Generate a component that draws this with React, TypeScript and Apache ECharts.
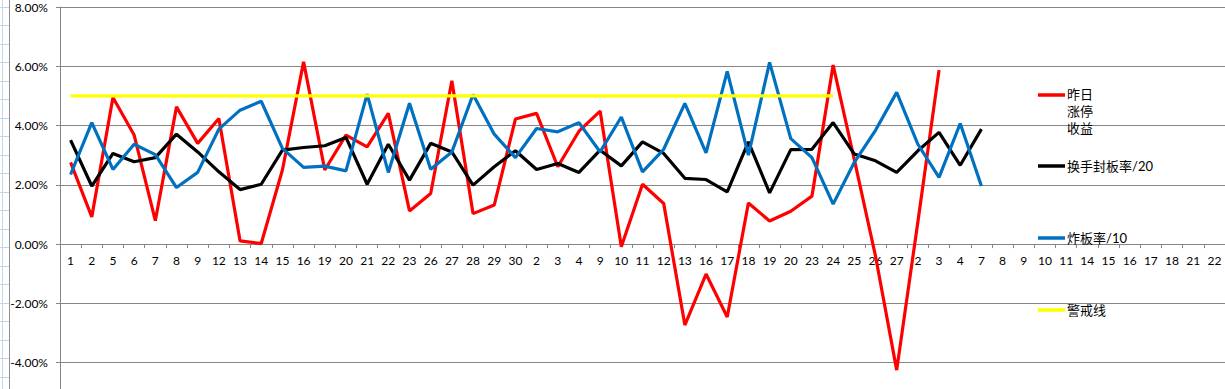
import React, { useEffect, useRef } from "react";
import * as echarts from "echarts";

const categories = [
  "1","2","5","6","7","8","9","12","13","14","15","16","19","20","21","22","23","26","27","28","29","30",
  "2","3","4","9","10","11","12","13","16","17","18","19","20","23","24","25","26","27",
  "2","3","4","7","8","9","10","11","14","15","16","17","18","21","22",
];

const yesterdayReturn = [
  2.76,0.92,4.95,3.68,0.79,4.63,3.40,4.24,0.11,0.02,2.50,6.15,2.50,3.68,3.28,4.41,1.12,1.71,5.51,1.03,1.32,4.22,
  4.41,2.61,3.81,4.49,-0.09,2.02,1.37,-2.73,-1.01,-2.46,1.39,0.78,1.11,1.62,6.04,2.85,-0.40,-4.25,
  0.75,5.87,
];

const turnoverSealRate = [
  3.51,1.96,3.06,2.78,2.92,3.71,3.11,2.44,1.84,2.02,3.17,3.26,3.32,3.60,2.02,3.37,2.16,3.40,3.11,1.99,2.61,3.15,
  2.52,2.72,2.42,3.17,2.64,3.45,3.06,2.22,2.18,1.76,3.45,1.73,3.19,3.20,4.10,3.04,2.81,2.42,
  3.15,3.77,2.66,3.88,
];

const breakRate = [
  2.35,4.10,2.52,3.37,3.02,1.91,2.42,3.88,4.52,4.82,3.23,2.59,2.63,2.47,5.06,2.42,4.75,2.53,3.11,5.05,3.71,2.92,
  3.90,3.79,4.10,3.11,4.29,2.44,3.20,4.75,3.08,5.83,3.00,6.13,3.56,2.92,1.35,2.76,3.84,5.12,
  3.37,2.25,4.07,1.96,
];

const warningLine = [
  5,5,5,5,5,5,5,5,5,5,5,5,5,5,5,5,5,5,5,5,5,5,
  5,5,5,5,5,5,5,5,5,5,5,5,5,5,5,
];

const seriesNames = ["昨日涨停收益", "换手封板率/20", "炸板率/10", "警戒线"];
const seriesColors = ["#FF0000", "#000000", "#0070C0", "#FFFF00"];

const FONT = "Lato, 'Noto Sans CJK SC', sans-serif";

const Y_MIN = -6;
const Y_MAX = 8;
const GRID_TOP = 7;
const GRID_BOTTOM = 8;
const CHART_H = 430;

export default function App() {
  const ref = useRef<HTMLDivElement>(null);

  useEffect(() => {
    if (!ref.current) return;
    const chart = echarts.init(ref.current, null, { renderer: "svg" });

    const dataSets = [yesterdayReturn, turnoverSealRate, breakRate, warningLine];

    const gridH = CHART_H - GRID_TOP - GRID_BOTTOM;
    const zeroFromBottom = (0 - Y_MIN) / (Y_MAX - Y_MIN) * gridH;

    const legendY = [95, 166, 238, 310];
    const legendGraphics: any[] = [];
    seriesNames.forEach((name, i) => {
      legendGraphics.push({
        type: "line",
        shape: { x1: 1038, y1: legendY[i], x2: 1065, y2: legendY[i] },
        style: { stroke: seriesColors[i], lineWidth: 3.5 },
        z: 100,
      });
      const text = i === 0 ? "昨日\n涨停\n收益" : name;
      legendGraphics.push({
        type: "text",
        x: 1067,
        y: i === 0 ? legendY[i] - 10 : legendY[i],
        style: {
          text,
          fill: "#000",
          font: `13px ${FONT}`,
          lineHeight: 17,
          verticalAlign: i === 0 ? "top" : "middle",
          align: "left",
        },
        z: 100,
      });
    });

    const sheet: any[] = [
      { type: "rect", shape: { x: 0, y: 0, width: 10, height: CHART_H }, style: { fill: "#fff" } },
      { type: "line", shape: { x1: 2.5, y1: 0, x2: 2.5, y2: CHART_H }, style: { stroke: "#C5D5EC", lineWidth: 1 } },
      { type: "line", shape: { x1: 9.5, y1: 0, x2: 9.5, y2: CHART_H }, style: { stroke: "#8E8E8E", lineWidth: 1 } },
    ];
    for (let y = 6.5; y < CHART_H; y += 18.5) {
      sheet.push({
        type: "line",
        shape: { x1: 0, y1: Math.round(y) + 0.5, x2: 9, y2: Math.round(y) + 0.5 },
        style: { stroke: "#C5D5EC", lineWidth: 1 },
      });
    }

    chart.setOption({
      animation: false,
      backgroundColor: "#fff",
      textStyle: { fontFamily: FONT },
      grid: {
        left: 60, right: 0, top: GRID_TOP, bottom: GRID_BOTTOM,
        containLabel: false, outerBoundsMode: "none",
      },
      legend: { show: false },
      xAxis: {
        type: "category",
        data: categories,
        boundaryGap: true,
        position: "bottom",
        offset: -zeroFromBottom,
        axisLine: { onZero: false, lineStyle: { color: "#868686", width: 1 } },
        axisTick: { show: true, interval: 0, length: 4, lineStyle: { color: "#868686" } },
        axisLabel: { interval: 0, color: "#000", fontSize: 12, margin: 10, fontFamily: FONT },
        splitLine: { show: false },
      },
      yAxis: {
        type: "value",
        min: Y_MIN,
        max: Y_MAX,
        interval: 2,
        axisLine: { show: true, lineStyle: { color: "#868686", width: 1 } },
        axisTick: { show: true, inside: false, length: 4, lineStyle: { color: "#868686" } },
        axisLabel: {
          color: "#000",
          fontSize: 12,
          margin: 12,
          fontFamily: FONT,
          formatter: (v: number) => (v <= Y_MIN ? "" : v.toFixed(2) + "%"),
        },
        splitLine: { show: true, lineStyle: { color: "#868686", width: 1 } },
      },
      series: seriesNames.map((name, i) => ({
        name,
        type: "line",
        data: dataSets[i],
        symbol: "none",
        smooth: false,
        lineStyle: { color: seriesColors[i], width: 3.2 },
        itemStyle: { color: seriesColors[i] },
        z: 2 + i,
      })),
      graphic: [...sheet, ...legendGraphics],
    });

    return () => chart.dispose();
  }, []);

  return (
    <div style={{ position: "fixed", left: 0, top: 0, width: 1225, height: 389, overflow: "hidden", background: "#fff" }}>
      <div ref={ref} style={{ width: 1225, height: CHART_H }} />
    </div>
  );
}
